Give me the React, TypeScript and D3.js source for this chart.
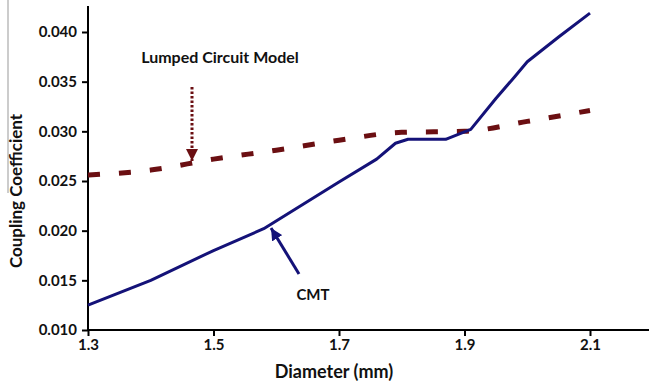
import React, { useRef, useEffect } from "react";
import * as d3 from "d3";

const xTicks = [1.3, 1.5, 1.7, 1.9, 2.1];
const yTicks = [0.01, 0.015, 0.02, 0.025, 0.03, 0.035, 0.04];

const cmtX = [1.3, 1.4, 1.5, 1.58, 1.7, 1.76, 1.79, 1.81, 1.87, 1.91, 1.95, 1.98, 2.0, 2.05, 2.1];
const cmtY = [0.0125, 0.015, 0.018, 0.0202, 0.0249, 0.0272, 0.0288, 0.0292, 0.0292, 0.0302, 0.0333, 0.0355, 0.037, 0.0395, 0.0419];

const lumpedX = [1.3, 1.4, 1.5, 1.6, 1.7, 1.8, 1.9, 2.0, 2.1];
const lumpedY = [0.0256, 0.0261, 0.0272, 0.0281, 0.0291, 0.0299, 0.03, 0.031, 0.0321];

const FONT = "Lato, 'Open Sans', sans-serif";

const App = () => {
  const ref = useRef<SVGSVGElement>(null);

  useEffect(() => {
    const svg = d3.select(ref.current);
    svg.selectAll("*").remove();

    const x = d3.scaleLinear().domain([1.3, 2.1]).range([88, 590]);
    const y = d3.scaleLinear().domain([0.01, 0.04]).range([330, 32]);

    // stray frame line at far left
    svg.append("line")
      .attr("x1", 8).attr("x2", 8).attr("y1", 0).attr("y2", 193)
      .attr("stroke", "#999").attr("stroke-width", 1);

    const defs = svg.append("defs");
    defs.append("marker")
      .attr("id", "headRed").attr("viewBox", "0 0 10 10")
      .attr("refX", 10).attr("refY", 5)
      .attr("markerWidth", 4).attr("markerHeight", 4)
      .attr("markerUnits", "strokeWidth")
      .attr("orient", "auto")
      .append("path").attr("d", "M0,0L10,5L0,10Z").attr("fill", "#6b0f12");
    defs.append("marker")
      .attr("id", "headBlue").attr("viewBox", "0 0 10 10")
      .attr("refX", 10).attr("refY", 5)
      .attr("markerWidth", 4).attr("markerHeight", 4)
      .attr("markerUnits", "strokeWidth")
      .attr("orient", "auto")
      .append("path").attr("d", "M0,0L10,5L0,10Z").attr("fill", "#141278");

    // axes
    const yAxis = svg.append("g")
      .attr("transform", `translate(${x(1.3)},0)`)
      .call(d3.axisLeft(y).tickValues(yTicks).tickFormat(d3.format(".3f")).tickSize(6).tickSizeOuter(0));
    yAxis.select(".domain").remove();
    yAxis.append("line")
      .attr("x1", 0).attr("x2", 0).attr("y1", 6).attr("y2", 331)
      .attr("stroke", "#000").attr("stroke-width", 2);

    const xAxis = svg.append("g")
      .attr("transform", `translate(0,${y(0.01)})`)
      .call(d3.axisBottom(x).tickValues(xTicks).tickFormat(d3.format(".1f")).tickSize(6).tickSizeOuter(0));
    xAxis.select(".domain").remove();
    xAxis.append("line")
      .attr("x1", x(1.3) - 1).attr("x2", 649).attr("y1", 0).attr("y2", 0)
      .attr("stroke", "#000").attr("stroke-width", 2);

    [yAxis, xAxis].forEach(a => {
      a.selectAll(".tick line").attr("stroke", "#000").attr("stroke-width", 2);
      a.selectAll(".tick text")
        .style("font-family", FONT)
        .style("font-weight", "bold")
        .style("font-size", "15px")
        .attr("fill", "#111");
    });
    yAxis.selectAll(".tick text").attr("x", -11);
    xAxis.selectAll(".tick text").attr("y", 9);

    // series
    const lumped = lumpedX.map((d, i) => [d, lumpedY[i]] as [number, number]);
    const cmt = cmtX.map((d, i) => [d, cmtY[i]] as [number, number]);

    svg.append("path")
      .datum(lumped)
      .attr("fill", "none")
      .attr("stroke", "#6b0f12")
      .attr("stroke-width", 5)
      .attr("stroke-dasharray", "12,19")
      .attr("d", d3.line().x(d => x(d[0])).y(d => y(d[1])).curve(d3.curveMonotoneX));

    svg.append("path")
      .datum(cmt)
      .attr("fill", "none")
      .attr("stroke", "#141278")
      .attr("stroke-width", 3)
      .attr("stroke-linejoin", "round")
      .attr("d", d3.line().x(d => x(d[0])).y(d => y(d[1])));

    // annotations
    svg.append("line")
      .attr("x1", 192).attr("y1", 87).attr("x2", 192).attr("y2", 161)
      .attr("stroke", "#6b0f12").attr("stroke-width", 3)
      .attr("stroke-dasharray", "2.5,2")
      .attr("marker-end", "url(#headRed)");

    svg.append("line")
      .attr("x1", 299).attr("y1", 274).attr("x2", 271).attr("y2", 228)
      .attr("stroke", "#141278").attr("stroke-width", 3)
      .attr("marker-end", "url(#headBlue)");

    const label = (tx: number, ty: number, txt: string, size: number, rotate = false) => {
      const t = svg.append("text")
        .attr("text-anchor", "middle")
        .style("font-family", FONT)
        .style("font-weight", "bold")
        .style("font-size", `${size}px`)
        .attr("fill", "#111")
        .text(txt);
      if (rotate) t.attr("transform", `translate(${tx},${ty}) rotate(-90)`);
      else t.attr("x", tx).attr("y", ty);
    };

    label(220, 63, "Lumped Circuit Model", 16);
    label(313, 300, "CMT", 15);
    label(334, 378, "Diameter (mm)", 18);
    label(22, 191, "Coupling Coefficient", 17, true);
  }, []);

  return <svg ref={ref} width={649} height={386} style={{ display: "block", position: "absolute", left: 0, top: 0, background: "#fff" }} />;
};

export default App;
